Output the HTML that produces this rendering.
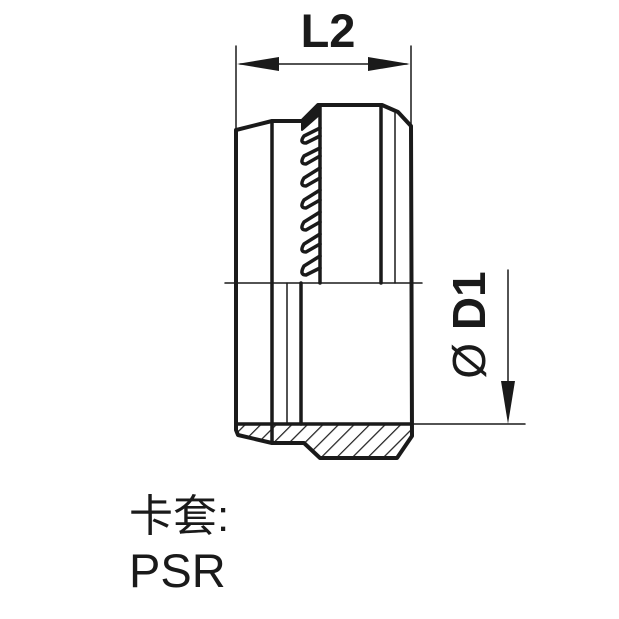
<!DOCTYPE html>
<html><head><meta charset="utf-8"><style>
html,body{margin:0;padding:0;background:#fff;}
svg{display:block;}
</style></head><body>
<svg width="619" height="619" viewBox="0 0 619 619" xmlns="http://www.w3.org/2000/svg">
<defs>
<pattern id="h" width="11" height="11" patternUnits="userSpaceOnUse" patternTransform="rotate(45)">
<line x1="0" y1="0" x2="0" y2="11" stroke="#222" stroke-width="2.5"/>
</pattern>
<clipPath id="sec"><path d="M237,424 L410,424 L412,438 L397,458 L320,458 L304,443 L272,443 L238,435 Z"/></clipPath>
</defs>
<g stroke="#1a1a1a" fill="none" stroke-linecap="round" stroke-linejoin="round">
<rect x="230" y="420" width="190" height="45" fill="url(#h)" stroke="none" clip-path="url(#sec)"/>
<path d="M236,130 L272,121 L302,121 L318,105 L382,105 L398,112 L411,126 L412,436 L397,458 L320,458 L304,443 L272,443 L238,435 L236,430 Z" stroke-width="4"/>
<line x1="237" y1="424" x2="410" y2="424" stroke-width="3.5"/>
<line x1="272" y1="121" x2="272" y2="443" stroke-width="3.5"/>
<line x1="287" y1="283" x2="287" y2="424" stroke-width="1.5"/>
<line x1="301" y1="283" x2="301" y2="424" stroke-width="3.5"/>
<line x1="320" y1="105" x2="320" y2="283" stroke-width="3.5"/>
<line x1="381" y1="105" x2="381" y2="283" stroke-width="3.5"/>
<line x1="395" y1="113" x2="395" y2="283" stroke-width="1.5"/>
<path d="M318,106 L302,121 L302,130 L318,116 Z" fill="#1a1a1a" stroke-width="2"/>
<path d="M320,128 L304,136 Q299,143 306,143 L320,136 M320,148 L304,156 Q299,164 306,164 L320,156 M320,168 L304,178 Q299,186 306,186 L320,178 M320,190 L304,200 Q299,208 306,208 L320,200 M320,212 L304,222 Q299,230 306,230 L320,222 M320,234 L304,244 Q299,252 306,252 L320,244 M320,256 L304,266 Q299,275 306,275 L320,268" stroke-width="3.5"/>
<line x1="225" y1="283" x2="422" y2="283" stroke-width="1.5"/>
<line x1="236" y1="46" x2="236" y2="128" stroke-width="1.5"/>
<line x1="411" y1="46" x2="411" y2="124" stroke-width="1.5"/>
<line x1="240" y1="64" x2="407" y2="64" stroke-width="1.5"/>
<line x1="412" y1="424" x2="525" y2="424" stroke-width="1.5"/>
<line x1="508" y1="270" x2="508" y2="400" stroke-width="1.5"/>
</g>
<g fill="#1a1a1a">
<path d="M237,64 L279,57 L279,71 Z"/>
<path d="M410,64 L368,57 L368,71 Z"/>
<path d="M508,424 L501,381 L515,381 Z"/>
</g>
<text x="328" y="47" font-family="Liberation Sans, sans-serif" font-weight="bold" font-size="47" text-anchor="middle" fill="#1a1a1a">L2</text>
<text transform="translate(485,325) rotate(-90)" font-family="Liberation Sans, sans-serif" font-size="46" text-anchor="middle" fill="#1a1a1a">Ø <tspan font-weight="bold">D1</tspan></text>
<text x="129" y="531" font-family="Liberation Sans, 'Noto Sans CJK SC', sans-serif" font-size="44" fill="#1a1a1a">卡套:</text>
<text x="129" y="587" font-family="Liberation Sans, sans-serif" font-size="47" fill="#1a1a1a">PSR</text>
</svg>
</body></html>
